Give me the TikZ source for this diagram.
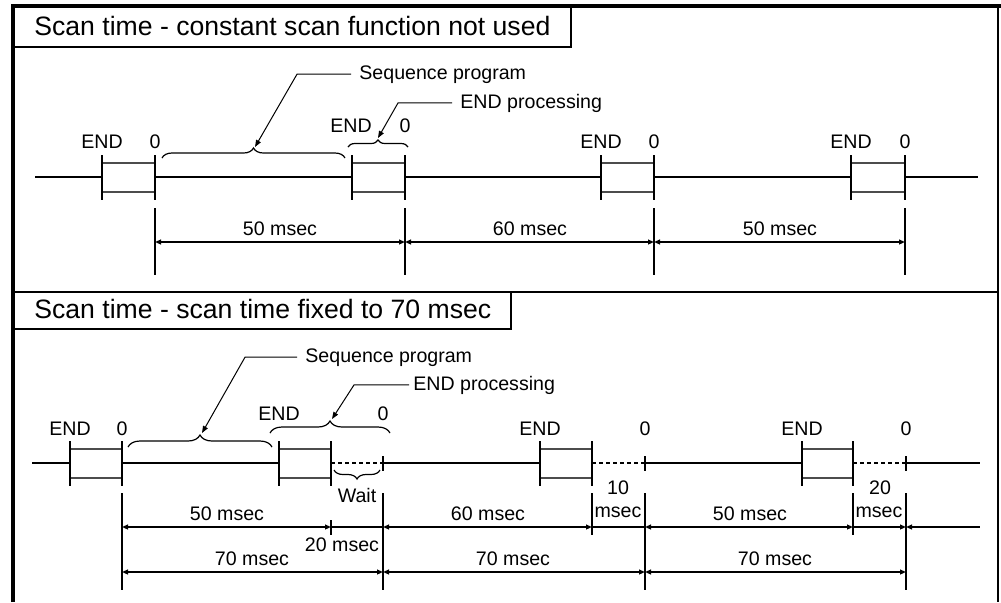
\documentclass[tikz,border=0pt]{standalone}
\usepackage{fontspec}
\setmainfont{Liberation Sans}
\usetikzlibrary{arrows.meta,decorations.pathreplacing}
\tikzset{
  frame/.style={line width=2pt},
  rule/.style={line width=1.2pt},
  tick/.style={line width=1pt},
  boxline/.style={line width=0.8pt, color=black!70},
  timeline/.style={line width=1pt},
  waitline/.style={line width=1pt, dash pattern=on 2pt off 1.5pt},
  dim/.style={line width=0.9pt, {Triangle[length=3pt,width=2.4pt]}-{Triangle[length=3pt,width=2.4pt]}},
  dimto/.style={line width=0.9pt, -{Triangle[length=3pt,width=2.4pt]}},
  dimfrom/.style={line width=0.9pt, {Triangle[length=3pt,width=2.4pt]}-},
  leader/.style={line width=0.5pt, -{Triangle[length=3.5pt,width=2.6pt]}},
  curly/.style={line width=0.6pt, decorate, decoration={brace, amplitude=#1}},
  curly/.default=5pt,
  title/.style={font=\fontsize{13.3}{16}\selectfont, anchor=base west, inner sep=0pt},
  lbl/.style={font=\fontsize{9.8}{11}\selectfont, anchor=base, inner sep=0pt},
}
% one END processing block: left x, right x, line y
\def\endbox(#1:#2:#3){%
  \draw[boxline] (#1,#3-14) -- (#2,#3-14);
  \draw[boxline] (#1,#3+15) -- (#2,#3+15);
  \draw[tick] (#1,#3-22) -- (#1,#3+23);
  \draw[tick] (#2,#3-22) -- (#2,#3+23);}

\begin{document}
\begin{tikzpicture}[x=0.5pt, y=-0.5pt]
  %%%%% START %%%%%
  \useasboundingbox (0,0) rectangle (1001,602);

  % frame and titles
  \draw[frame] (13,602) -- (13,6) -- (1001,6);
  \draw[tick] (998,6) -- (998,602);
  \draw[rule] (13,292) -- (998,292);
  \draw[rule] (13,47) -- (571,47) -- (571,6);
  \node[title] (ttlA) at (34,35) {Scan time - constant scan function not used};
  \draw[rule] (13,329) -- (511,329) -- (511,292);
  \node[title] (ttlB) at (34,318) {Scan time - scan time fixed to 70 msec};

  %%%%% constant scan not used %%%%%
  \draw[timeline] (35,177) -- (102,177);
  \draw[timeline] (155,177) -- (352,177);
  \draw[timeline] (405,177) -- (601,177);
  \draw[timeline] (654,177) -- (851,177);
  \draw[timeline] (905,177) -- (978,177);
  \foreach \a/\b in {102/155,352/405,601/654,851/905}{
    \endbox(\a:\b:177)
  }
  \foreach \a/\b in {102/155,601/654,851/905}{
    \node[lbl] (endA\a) at (\a,148) {END};
    \node[lbl] (zeroA\b) at (\b,148) {0};
  }
  \node[lbl] (endA352) at (351,132) {END};
  \node[lbl] (zeroA405) at (405,132) {0};

  \draw[curly] (162,158) -- (345,158);
  \draw[curly=3.5pt] (348,147) -- (408,147);
  \coordinate (seqAtip) at (255,147);
  \coordinate (endpAtip) at (378,138);
  \node[lbl, anchor=base west] (seqA) at (359,79) {Sequence program};
  \node[lbl, anchor=base west] (endpA) at (460,108) {END processing};
  \draw[leader] ([xshift=-4pt]seqA.west) -- ++(-54,0) -- (seqAtip);
  \draw[leader] ([xshift=-4pt]endpA.west) -- ++(-54,0) -- (endpAtip);

  \foreach \x in {155,405,654,905}
    \draw[tick] (\x,208) -- (\x,275);
  \draw[dim] (155,242) -- (405,242);
  \draw[dim] (405,242) -- (654,242);
  \draw[dim] (654,242) -- (905,242);
  \node[lbl] (msA1) at (280,235) {50 msec};
  \node[lbl] (msA2) at (530,235) {60 msec};
  \node[lbl] (msA3) at (780,235) {50 msec};

  %%%%% scan time fixed to 70 msec %%%%%
  \draw[timeline] (32,463) -- (70,463);
  \draw[timeline] (122,463) -- (279,463);
  \draw[timeline] (383,463) -- (540,463);
  \draw[timeline] (645,463) -- (802,463);
  \draw[timeline] (906,463) -- (980,463);
  \draw[waitline] (331,463) -- (383,463);
  \draw[waitline] (592,463) -- (645,463);
  \draw[waitline] (853,463) -- (906,463);
  \foreach \x in {383,645,906}
    \draw[tick] (\x,456) -- (\x,471);
  \foreach \a/\b in {70/122,279/331,540/592,802/853}{
    \endbox(\a:\b:463)
  }

  \node[lbl] (endB1) at (70,435) {END};
  \node[lbl] (zeroB1) at (122,435) {0};
  \node[lbl] (endB2) at (279,420) {END};
  \node[lbl] (zeroB2) at (383,420) {0};
  \node[lbl] (endB3) at (540,435) {END};
  \node[lbl] (zeroB3) at (645,435) {0};
  \node[lbl] (endB4) at (802,435) {END};
  \node[lbl] (zeroB4) at (906,435) {0};

  \draw[curly=6pt] (128,447) -- (272,447);
  \draw[curly=6pt] (270,433) -- (390,433);
  \draw[curly=4.5pt] (380,470) -- (334,470);
  \node[lbl] (wait) at (357,502) {Wait};
  \coordinate (seqBtip) at (202,433);
  \coordinate (endpBtip) at (332,419);
  \node[lbl, anchor=base west] (seqB) at (305,362) {Sequence program};
  \node[lbl, anchor=base west] (endpB) at (413,390) {END processing};
  \draw[leader] ([xshift=-4pt]seqB.west) -- ++(-52,0) -- (seqBtip);
  \draw[leader] ([xshift=-2pt]endpB.west) -- ++(-55,0) -- (endpBtip);

  \foreach \x in {122,383,645,906}
    \draw[tick] (\x,493) -- (\x,590);
  \foreach \x in {592,853}
    \draw[tick] (\x,493) -- (\x,535);
  \draw[tick] (331,520) -- (331,535);

  \draw[dim] (122,527) -- (331,527);
  \draw[tick] (331,527) -- (383,527);
  \draw[dim] (383,527) -- (592,527);
  \draw[tick] (592,527) -- (645,527);
  \draw[dim] (645,527) -- (853,527);
  \draw[dimto] (853,527) -- (906,527);
  \draw[dimfrom] (906,527) -- (980,527);
  \draw[dim] (122,572) -- (383,572);
  \draw[dim] (383,572) -- (645,572);
  \draw[dim] (645,572) -- (906,572);

  \node[lbl] (msB1) at (227,520) {50 msec};
  \node[lbl] (msB2) at (342,551) {20 msec};
  \node[lbl] (msB3) at (488,520) {60 msec};
  \node[lbl] (msB4) at (618,494) {10};
  \node[lbl] (msB5) at (618,517) {msec};
  \node[lbl] (msB6) at (750,520) {50 msec};
  \node[lbl] (msB7) at (880,494) {20};
  \node[lbl] (msB8) at (879,517) {msec};
  \node[lbl] (msB9) at (252,565) {70 msec};
  \node[lbl] (msB10) at (513,565) {70 msec};
  \node[lbl] (msB11) at (775,565) {70 msec};

  %%%%% END %%%%%
\end{tikzpicture}
\end{document}
